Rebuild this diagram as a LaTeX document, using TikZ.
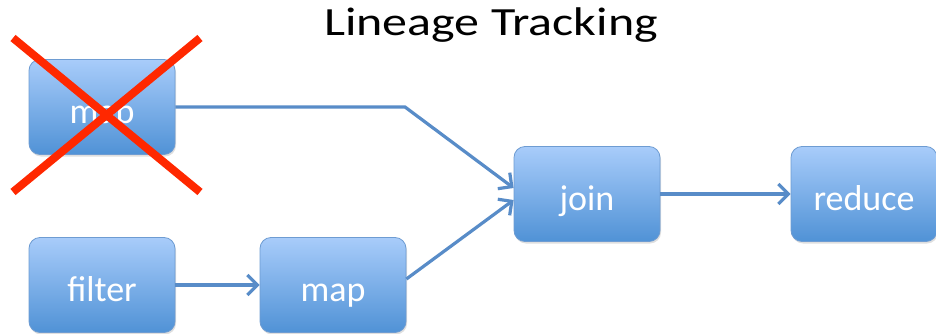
\documentclass[tikz,border=0pt]{standalone}
\usepackage{fontspec}
\setmainfont{Carlito}
\usetikzlibrary{arrows.meta,shadows}
\definecolor{boxtop}{RGB}{168,204,250}
\definecolor{boxbot}{RGB}{80,146,214}
\definecolor{boxline}{RGB}{110,156,210}
\definecolor{linkcol}{RGB}{88,140,200}
\definecolor{crossred}{RGB}{255,40,0}
\tikzset{
  opbox/.style={rounded corners=11pt, top color=boxtop, bottom color=boxbot,
    draw=boxline, line width=0.8pt, text=white, minimum width=146pt, minimum height=95pt,
    inner sep=0pt, text height=33pt, text depth=0pt, font=\fontsize{36}{40}\selectfont,
    drop shadow={shadow xshift=1pt, shadow yshift=-2pt, opacity=0.25}},
  link/.style={draw=linkcol, line width=3.2pt, -{Straight Barb[length=10pt,width=20pt,line width=3.2pt]}},
  cross/.style={draw=crossred, line width=8pt},
  titletext/.style={font=\fontsize{40}{44}\selectfont, text=black, inner sep=0pt, anchor=base}
}
\begin{document}
\begin{tikzpicture}[x=1pt,y=-1pt]
\useasboundingbox[fill=white] (0,0) rectangle (936,334);
\node[titletext] (title) at (491,36) {\scalebox{1.25}[1]{Lineage Tracking}};
\node[opbox] (map1) at (102,107) {map};
\node[opbox] (filter) at (102,285) {filter};
\node[opbox] (map2) at (333,285) {map};
\node[opbox] (join) at (587,194) {join};
\node[opbox] (reduce) at (864,194) {reduce};
\coordinate (bend) at (405,107);
\draw[link] (map1.east) -- (bend) -- ([yshift=6pt]join.west);
\draw[link] (map2.east) ++(0,-6) -- ([yshift=-6pt]join.west);
\draw[link] (filter) -- (map2);
\draw[link] (join) -- (reduce);
\coordinate (xa) at (13,38);
\coordinate (xb) at (200,192);
\coordinate (xc) at (200,38);
\coordinate (xd) at (13,192);
\draw[cross] (xa) -- (xb);
\draw[cross] (xc) -- (xd);
\end{tikzpicture}
\end{document}
